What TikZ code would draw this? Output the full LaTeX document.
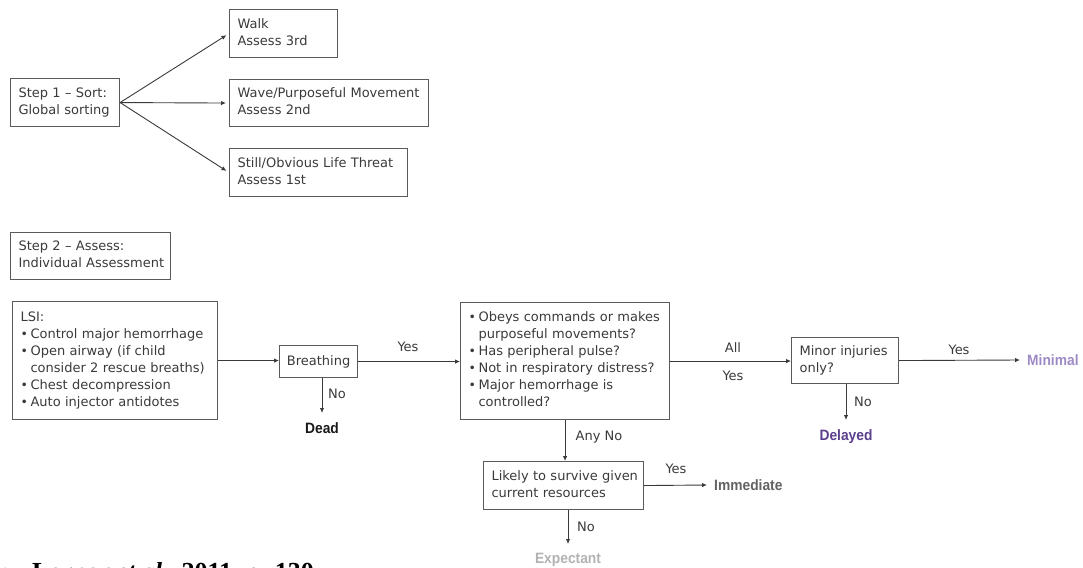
\documentclass[tikz,border=0pt]{standalone}
\usepackage{fontspec}
\setmainfont{DejaVu Sans}
\newfontfamily\outfont[FakeStretch=0.92]{Liberation Sans}
\newfontfamily\srcfont{Liberation Serif}
\usetikzlibrary{arrows.meta}
\definecolor{txt}{HTML}{3A3A3A}
\definecolor{linegray}{HTML}{5A5A5A}
\definecolor{arrgray}{HTML}{3A3A3A}
\definecolor{minimalc}{HTML}{9D8AC4}
\definecolor{delayedc}{HTML}{5B3F8C}
\definecolor{immc}{HTML}{626262}
\definecolor{expc}{HTML}{B2B2B2}
\newcommand\tb[1]{\begin{tabular}{@{}l@{}}#1\end{tabular}}
\newcommand\bul{\makebox[10pt][l]{\raisebox{0.3pt}{\fontsize{12.5}{12.5}\selectfont\textbullet}}}
\newcommand\hang{\hspace*{10pt}}
\begin{document}
\begin{tikzpicture}[x=1pt,y=-1pt,
  font=\fontsize{13}{17}\selectfont,
  box/.style={draw=linegray, line width=1.1pt, text=txt, inner xsep=8pt, inner ysep=0pt, anchor=north west, align=left},
  arr/.style={draw=arrgray, line width=0.9pt, -{Latex[length=5pt,width=4.5pt]}},
  lab/.style={text=txt, inner sep=0pt},
  outcome/.style={font=\outfont\bfseries\fontsize{15}{17}\selectfont, inner xsep=7pt, inner ysep=9pt}]
\path[use as bounding box] (0,0) rectangle (1083,567);

% Step 1
\node[box, text width=93pt, minimum height=48pt] (s1) at (10,78) {\tb{Step 1 – Sort:\\Global sorting}};
\node[box, text width=92pt, minimum height=48pt] (walk) at (229,9) {\tb{Walk\\Assess 3rd}};
\node[box, text width=183pt, minimum height=47pt] (wave) at (229,79) {\tb{Wave/Purposeful Movement\\Assess 2nd}};
\node[box, text width=162pt, minimum height=48pt] (still) at (229,148) {\tb{Still/Obvious Life Threat\\Assess 1st}};
\draw[arr, shorten >=3pt] (s1.east) -- (walk.west);
\draw[arr, shorten >=3pt] (s1.east) -- (wave.west);
\draw[arr, shorten >=3pt] (s1.east) -- (still.west);

% Step 2
\node[box, text width=144pt, minimum height=47pt] (s2) at (10,232) {\tb{Step 2 – Assess:\\Individual Assessment}};
\node[box, text width=189pt, minimum height=118pt] (lsi) at (12,301) {\tb{LSI:\\
\bul Control major hemorrhage\\
\bul Open airway (if child\\
\hang consider 2 rescue breaths)\\
\bul Chest decompression\\
\bul Auto injector antidotes}};
\node[box, align=center, inner xsep=0pt, minimum width=78pt, minimum height=32pt] (br) at (279,345) {Breathing};
\node[box, text width=193pt, minimum height=117pt] (q) at (460,302) {\tb{\bul Obeys commands or makes\\
\hang purposeful movements?\\
\bul Has peripheral pulse?\\
\bul Not in respiratory distress?\\
\bul Major hemorrhage is\\
\hang controlled?}};
\node[box, text width=91pt, minimum height=46pt] (minor) at (791,337) {\tb{Minor injuries\\only?}};
\node[box, text width=144pt, minimum height=48pt] (likely) at (483,461) {\tb{Likely to survive given\\current resources}};

% outcomes
\node[outcome, anchor=north, text=black!90] (dead) at (322,413) {Dead};
\node[outcome, anchor=north, text=delayedc] (delayed) at (846,420) {Delayed};
\node[outcome, anchor=north, text=expc] (expectant) at (568,544) {Expectant};
\node[outcome, anchor=west, text=minimalc] (minimal) at (1020,360) {Minimal};
\node[outcome, anchor=west, text=immc] (immediate) at (707,485) {Immediate};

% connectors
\draw[arr] (lsi.east) -- (lsi.east -| br.west);
\draw[arr] (br.east) -- (br.east -| q.west);
\draw[arr] (br.south -| dead.north) -- (dead.north);
\draw[arr] (q.east) -- (q.east -| minor.west);
\draw[arr] (minor.east) -- (minimal.west);
\draw[arr] (minor.south -| delayed.north) -- (delayed.north);
\draw[arr] (q.south) -- (q.south |- likely.north);
\draw[arr] (likely.east) -- (immediate.west);
\draw[arr] (likely.south -| expectant.north) -- (expectant.north);

% labels
\node[lab] (lyes1) at (408,347) {Yes};
\node[lab] (lno1) at (337,394) {No};
\node[lab] (lall) at (733,348) {All};
\node[lab] (lyes2) at (733,376) {Yes};
\node[lab] (lyes3) at (959,350) {Yes};
\node[lab] (lno2) at (863,402) {No};
\node[lab] (lany) at (599,437) {Any No};
\node[lab] (lyes4) at (676,469) {Yes};
\node[lab] (lno3) at (586,527) {No};

% source line (cut off at the bottom edge, as in the reference)
\node[anchor=base west, inner sep=0pt, font=\srcfont\bfseries\fontsize{26}{26}\selectfont] (src) at (32,580) {Lerner \textit{et al}., 2011, p. 130};
\node[anchor=base east, inner sep=0pt, font=\srcfont\bfseries\fontsize{26}{26}\selectfont] (srcpre) at (src.base west) {Source:\rule{22pt}{0pt}};
\end{tikzpicture}
\end{document}
